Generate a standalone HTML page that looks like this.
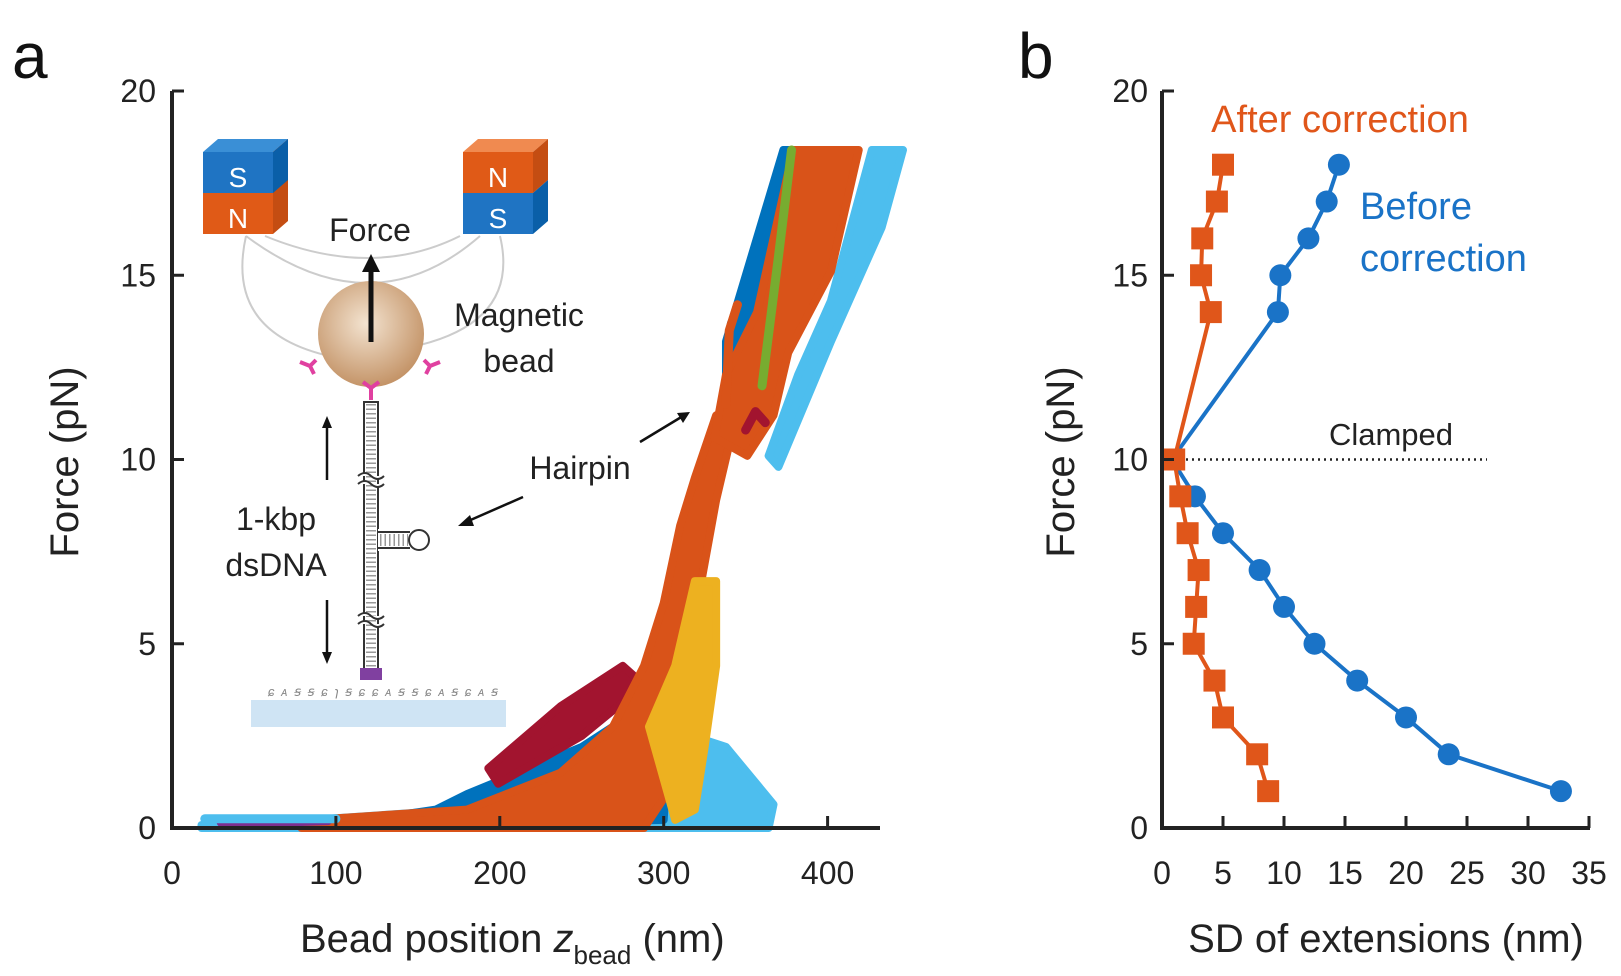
<!DOCTYPE html>
<html><head><meta charset="utf-8"><style>
html,body{margin:0;padding:0;background:#fff;}
svg{display:block;font-family:"Liberation Sans","DejaVu Sans",sans-serif;}
</style></head><body>
<svg id="fig" width="1621" height="976" viewBox="0 0 1621 976" xmlns="http://www.w3.org/2000/svg">
<text x="12" y="78" font-size="64" fill="#111">a</text>
<text x="1018" y="78" font-size="64" fill="#111">b</text>
<g id="pa"></g>
<g id="inset">
  <path d="M246 236 Q 372 330 480 236" fill="none" stroke="#ccc" stroke-width="2"/>
  <path d="M265 236 Q 372 280 460 236" fill="none" stroke="#ccc" stroke-width="2"/>
  <path d="M246 236 Q 225 330 325 355" fill="none" stroke="#ccc" stroke-width="2"/>
  <path d="M500 236 Q 520 320 420 345" fill="none" stroke="#ccc" stroke-width="2"/>
  <g>
    <polygon points="203,152 218,139 288,139 273,152" fill="#3a8fd6"/>
    <polygon points="273,152 288,139 288,221 273,234" fill="#c44d12"/>
    <polygon points="273,152 288,139 288,180 273,193" fill="#0a5fa8"/>
    <rect x="203" y="152" width="70" height="41" fill="#1f74c3"/>
    <rect x="203" y="193" width="70" height="41" fill="#e05a17"/>
    <text x="238" y="187" font-size="28" fill="#fff" text-anchor="middle">S</text>
    <text x="238" y="228" font-size="28" fill="#fff" text-anchor="middle">N</text>
  </g>
  <g>
    <polygon points="463,152 478,139 548,139 533,152" fill="#f08a50"/>
    <polygon points="533,152 548,139 548,180 533,193" fill="#c44d12"/>
    <polygon points="533,193 548,180 548,221 533,234" fill="#0a5fa8"/>
    <rect x="463" y="152" width="70" height="41" fill="#e05a17"/>
    <rect x="463" y="193" width="70" height="41" fill="#1f74c3"/>
    <text x="498" y="187" font-size="28" fill="#fff" text-anchor="middle">N</text>
    <text x="498" y="228" font-size="28" fill="#fff" text-anchor="middle">S</text>
  </g>
  <defs><radialGradient id="bg" cx="0.45" cy="0.4" r="0.6"><stop offset="0" stop-color="#f3e3d0"/><stop offset="1" stop-color="#c49468"/></radialGradient></defs>
  <circle cx="371" cy="334" r="53" fill="url(#bg)"/>
  <line x1="371" y1="342" x2="371" y2="270" stroke="#111" stroke-width="5"/>
  <polygon points="362,272 380,272 371,254" fill="#111"/>
  <text x="370" y="241" font-size="32" fill="#222" text-anchor="middle">Force</text>
  <text x="519" y="326" font-size="32" fill="#222" text-anchor="middle">Magnetic</text>
  <text x="519" y="372" font-size="32" fill="#222" text-anchor="middle">bead</text>
  <g stroke="#e040a0" stroke-width="4" fill="none">
    <path d="M300 362 l10 4 m0 0 l6 -6 m-6 6 l4 8"/>
    <path d="M440 362 l-10 4 m0 0 l-6 -6 m6 6 l-4 8"/>
    <path d="M371 388 l0 12 m0 -12 l-8 -6 m8 6 l8 -6"/>
  </g>
  <g>
    <rect x="364" y="402" width="14" height="270" fill="none" stroke="#333" stroke-width="2"/>
    <line x1="371" y1="404" x2="371" y2="670" stroke="#999" stroke-width="10" stroke-dasharray="1.5 3"/>
    <rect x="378" y="529" width="22" height="22" fill="#fff"/>
    <line x1="378" y1="532" x2="410" y2="532" stroke="#333" stroke-width="2"/>
    <line x1="378" y1="548" x2="410" y2="548" stroke="#333" stroke-width="2"/>
    <circle cx="419" cy="540" r="10" fill="#fff" stroke="#333" stroke-width="2"/>
    <line x1="380" y1="540" x2="408" y2="540" stroke="#999" stroke-width="12" stroke-dasharray="1.5 3"/>
    <path d="M358 476 q7 -6 13 0 q7 6 13 0 M358 484 q7 -6 13 0 q7 6 13 0" stroke="#333" stroke-width="2" fill="#fff"/>
    <path d="M358 616 q7 -6 13 0 q7 6 13 0 M358 624 q7 -6 13 0 q7 6 13 0" stroke="#333" stroke-width="2" fill="#fff"/>
    <rect x="360" y="668" width="22" height="12" fill="#8040a0"/>
  </g>
  <line x1="327" y1="480" x2="327" y2="425" stroke="#111" stroke-width="2.5"/>
  <polygon points="322,428 332,428 327,416" fill="#111"/>
  <line x1="327" y1="600" x2="327" y2="655" stroke="#111" stroke-width="2.5"/>
  <polygon points="322,652 332,652 327,664" fill="#111"/>
  <text x="276" y="530" font-size="32" fill="#222" text-anchor="middle">1-kbp</text>
  <text x="276" y="576" font-size="32" fill="#222" text-anchor="middle">dsDNA</text>
  <text x="268" y="696" font-size="13" fill="#888" font-style="italic" textLength="230">ɕᴀꞩꞩɕɿꞩɕɕᴀꞩꞩɕᴀꞩɕᴀꞩ</text>
  <rect x="251" y="700" width="255" height="27" fill="#cfe4f4"/>
  <text x="580" y="479" font-size="32" fill="#222" text-anchor="middle">Hairpin</text>
  <line x1="523" y1="497" x2="466" y2="522" stroke="#111" stroke-width="2.5"/>
  <polygon points="458,526 470,515 474,526" fill="#111"/>
  <line x1="640" y1="442" x2="683" y2="416" stroke="#111" stroke-width="2.5"/>
  <polygon points="690,412 677,413 683,423" fill="#111"/>
</g>
<g id="pb"></g>
</svg>
<script>
// ---- Panel a data: scatter clouds as outlines (nm, pN) ----
const cloudColors = ["#4dbeee","#0072bd","#a2142f","#d95319","#edb120","#4dbeee","#0072bd","#0072bd","#d95319"];
const cloudZ = [
 [18,85,275,300,338,367,364,18],
 [85,161,180,250,288,300,307,300,85],
 [193,237,275,288,250,199],
 [79,180,237,269,288,300,310,319,332,341,332,323,313,307,300,288,79],
 [291,307,319,332,332,325,319,307],
 [364,382,402,427,446,433,402,370],
 [338,373,395,370,357,338],
 [341,367,367,341],
 [331,338,357,379,419,402,376,367,351]
];
const cloudF = [
 [0.08,0.22,0.79,2.75,2.2,0.64,0,0],
 [0,0.5,0.92,2.2,3.3,4.4,5.6,0.22,0],
 [1.62,3.3,4.4,3.88,2.5,1.2],
 [0.2,0.5,1.5,2.75,4.4,6.1,8.2,9.5,11.2,10.6,8.9,6.7,4.4,2.75,0.8,0,0],
 [2.75,4.4,6.7,6.7,4.4,2.2,0.5,0.22],
 [10.1,12.3,14.3,18.4,18.4,16.3,13.2,9.8],
 [13.2,18.4,18.4,13.5,11.8,11.2],
 [13.7,13.5,11.5,11.2],
 [10.6,12.3,14.0,18.4,18.4,15.1,12.9,11.2,10.1]
];
// thin trace strands (nm, pN)
const strandColors = ["#7e2f8e","#4dbeee","#77ac30","#d95319","#a2142f"];
const strandZ = [[30,60,95],[20,60,100],[360,370,378],[338,340,345],[350,356,362]];
const strandF = [[0.15,0.15,0.2],[0.25,0.25,0.25],[12,15.5,18.4],[11.5,13.5,14.2],[10.8,11.3,11.0]];
const aXTicks = [0,100,200,300,400];
const aYTicks = [0,5,10,15,20];

// ---- Panel b data ----
const bForce = [1,2,3,4,5,6,7,8,9,10,14,15,16,17,18];
const bAfter = [8.7,7.8,5.0,4.3,2.6,2.8,3.0,2.1,1.5,1.0,4.0,3.2,3.3,4.5,5.0];
const bBefore = [32.7,23.5,20.0,16.0,12.5,10.0,8.0,5.0,2.7,0.8,9.5,9.7,12.0,13.5,14.5];
const bXTicks = [0,5,10,15,20,25,30,35];
const bYTicks = [0,5,10,15,20];

const NS="http://www.w3.org/2000/svg";
function mk(tag,attrs,parent){const e=document.createElementNS(NS,tag);for(const k in attrs)e.setAttribute(k,attrs[k]);parent.appendChild(e);return e;}
const yS = f => 828 - f*36.85;
const axS = z => 172 + z*1.639;
const bxS = v => 1162 + v*12.2;

// Panel a
const pa=document.getElementById('pa');
for(let i=0;i<cloudZ.length;i++){
  const pts=cloudZ[i].map((z,j)=>axS(z)+','+yS(cloudF[i][j])).join(' ');
  const pg=mk('polygon',{points:pts,fill:cloudColors[i],stroke:cloudColors[i],'stroke-width':8,'stroke-linejoin':'round'},pa);
  
  
}
for(let i=0;i<strandZ.length;i++){
  const pts=strandZ[i].map((z,j)=>axS(z)+','+yS(strandF[i][j])).join(' ');
  const pl=mk('polyline',{points:pts,fill:'none',stroke:strandColors[i],'stroke-width':9,'stroke-linecap':'round','stroke-linejoin':'round'},pa);
  
  
}
mk('path',{d:`M172 ${yS(20)} V828 H880`,fill:'none',stroke:'#222','stroke-width':4},pa);
aXTicks.forEach(t=>{
  mk('line',{x1:axS(t),x2:axS(t),y1:828,y2:816,stroke:'#222','stroke-width':3},pa);
  const tx=mk('text',{x:axS(t),y:884,'font-size':32,'text-anchor':'middle',fill:'#222'},pa);tx.textContent=t;
  
  
});
aYTicks.forEach(t=>{
  mk('line',{x1:172,x2:184,y1:yS(t),y2:yS(t),stroke:'#222','stroke-width':3},pa);
  const tx=mk('text',{x:156,y:yS(t)+11,'font-size':32,'text-anchor':'end',fill:'#222'},pa);tx.textContent=t;
  
  
});
let t=mk('text',{x:0,y:0,'font-size':40,'text-anchor':'middle',fill:'#222',transform:'translate(78,462) rotate(-90)'},pa);t.textContent='Force (pN)';


t=mk('text',{x:300,y:952,'font-size':40,fill:'#222'},pa);
t.innerHTML='Bead position <tspan font-style="italic">z</tspan><tspan font-size="26" dy="12">bead</tspan><tspan dy="-12"> (nm)</tspan>';



// Panel b
const pb=document.getElementById('pb');
mk('line',{x1:1162,x2:1487,y1:yS(10),y2:yS(10),stroke:'#222','stroke-width':2.5,'stroke-dasharray':'2 4'},pb);
t=mk('text',{x:1391,y:445,'font-size':31,'text-anchor':'middle',fill:'#222'},pb);t.textContent='Clamped';


function series(vals,color,shape,name){
  const idx=bForce.map((f,i)=>i);
  const low=idx.filter(i=>bForce[i]<=10).sort((a,b)=>bForce[a]-bForce[b]);
  const high=idx.filter(i=>bForce[i]>=10).sort((a,b)=>bForce[a]-bForce[b]);
  [low,high].forEach(g=>{
    const l=mk('polyline',{points:g.map(i=>bxS(vals[i])+','+yS(bForce[i])).join(' '),fill:'none',stroke:color,'stroke-width':4},pb);
    
    
  });
  idx.forEach(i=>{
    const x=bxS(vals[i]),y=yS(bForce[i]);let m;
    if(shape==='sq') m=mk('rect',{x:x-11,y:y-11,width:22,height:22,fill:color},pb);
    else m=mk('circle',{cx:x,cy:y,r:11,fill:color},pb);
    
    
  });
}
series(bBefore,'#1a73c7','c','before-correction');
series(bAfter,'#e0561a','sq','after-correction');
mk('path',{d:`M1162 ${yS(20)} V828 H1590`,fill:'none',stroke:'#222','stroke-width':4},pb);
bXTicks.forEach(v=>{
  mk('line',{x1:bxS(v),x2:bxS(v),y1:828,y2:816,stroke:'#222','stroke-width':3},pb);
  const tx=mk('text',{x:bxS(v),y:884,'font-size':32,'text-anchor':'middle',fill:'#222'},pb);tx.textContent=v;
  
  
});
bYTicks.forEach(v=>{
  mk('line',{x1:1162,x2:1174,y1:yS(v),y2:yS(v),stroke:'#222','stroke-width':3},pb);
  const tx=mk('text',{x:1148,y:yS(v)+11,'font-size':32,'text-anchor':'end',fill:'#222'},pb);tx.textContent=v;
  
  
});
t=mk('text',{x:0,y:0,'font-size':40,'text-anchor':'middle',fill:'#222',transform:'translate(1074,462) rotate(-90)'},pb);t.textContent='Force (pN)';


t=mk('text',{x:1386,y:952,'font-size':40,'text-anchor':'middle',fill:'#222'},pb);t.textContent='SD of extensions (nm)';


t=mk('text',{x:1340,y:132,'font-size':38,'text-anchor':'middle',fill:'#e0561a'},pb);t.textContent='After correction';


t=mk('text',{x:1360,y:219,'font-size':38,fill:'#1a73c7'},pb);t.textContent='Before';


t=mk('text',{x:1360,y:271,'font-size':38,fill:'#1a73c7'},pb);t.textContent='correction';


</script>
</body></html>
